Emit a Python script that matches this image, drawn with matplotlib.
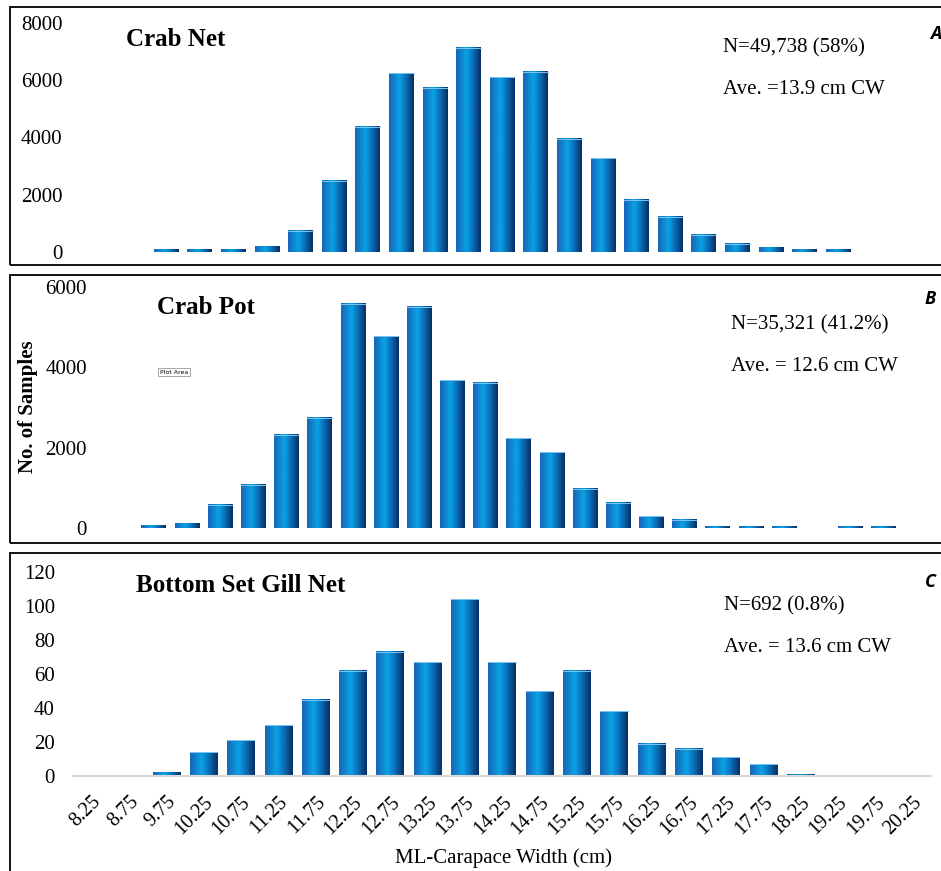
import matplotlib.pyplot as plt
import numpy as np
from matplotlib.colors import LinearSegmentedColormap
from matplotlib.patches import Rectangle

plt.rcParams['font.family'] = ['Liberation Serif', 'DejaVu Serif']

# size classes (cm), as labelled on the bottom panel
size_labels = ["8.25", "8.75", "9.75", "10.25", "10.75", "11.25", "11.75", "12.25",
               "12.75", "13.25", "13.75", "14.25", "14.75", "15.25", "15.75", "16.25",
               "16.75", "17.25", "17.75", "18.25", "19.25", "19.75", "20.25"]

crab_net = [0, 0, 90, 90, 90, 200, 740, 2490, 4380, 6250, 5730, 7140, 6100, 6290,
            3950, 3270, 1830, 1240, 600, 280, 140, 80, 80]
crab_pot = [50, 110, 580, 1080, 2320, 2740, 5580, 4780, 5510, 3680, 3610, 2240, 1880,
            980, 630, 290, 210, 40, 40, 40, 0, 40, 40]
gill_net = [0, 0, 2, 14, 21, 30, 45, 62, 73, 67, 104, 67, 50, 62, 38, 19, 16, 11, 7,
            1, 0, 0, 0]

titles = ["Crab Net", "Crab Pot", "Bottom Set Gill Net"]
stats_n = ["N=49,738 (58%)", "N=35,321 (41.2%)", "N=692 (0.8%)"]
stats_ave = ["Ave. =13.9 cm CW", "Ave. = 12.6 cm CW", "Ave. = 13.6 cm CW"]
letters = ["A", "B", "C"]

W, H = 941, 871
fig = plt.figure(figsize=(W / 100, H / 100), dpi=100)

def fx(px):
    return px / W

def fy(py):
    return 1 - py / H

cmap = LinearSegmentedColormap.from_list(
    "bar", [(0, "#1766b8"), (0.42, "#0aa2e4"), (0.65, "#0a74c0"), (1, "#0a2e60")])
grad = np.linspace(0, 1, 64).reshape(1, -1)

# [left, right, y0 px, ytop px]
boxes = [(82, 855, 252, 23), (137, 900, 528, 287), (73, 931, 776, 572)]
ylims = [8000, 6000, 120]
ytks = [np.arange(0, 8001, 2000), np.arange(0, 6001, 2000), np.arange(0, 121, 20)]
ypads = [14, 36, 13]
series = [crab_net, crab_pot, gill_net]
title_pos = [(126, 39), (157, 307), (136, 585)]
n_pos = [(723, 48), (731, 325), (724, 606)]
ave_pos = [(723, 90), (731, 366), (724, 647)]
let_pos = [(930, 34), (925, 299), (925, 582)]
frames = [(10, 7, 265), (10, 275, 543), (10, 553, 900)]

x = np.arange(len(size_labels))
bw = 0.73
axes = []
for i in range(3):
    l, r, b, t = boxes[i]
    ax = fig.add_axes([fx(l), fy(b), fx(r - l), fy(t) - fy(b)])
    vals = series[i]
    for xi, v in zip(x, vals):
        if v <= 0:
            continue
        ax.imshow(grad, cmap=cmap, aspect="auto", interpolation="bilinear",
                  extent=[xi - bw / 2, xi + bw / 2, 0, v], zorder=2)
        if v > 0.03 * ylims[i]:
            ax.plot([xi - bw / 2, xi + bw / 2], [v, v], color="#7cc6f0", lw=0.7, zorder=3)
    ax.set_xlim(-0.5, len(size_labels) - 0.5)
    ax.set_ylim(0, ylims[i])
    ax.set_yticks(ytks[i])
    ax.tick_params(axis="y", length=0, labelsize=15, pad=ypads[i])
    for s in ax.spines.values():
        s.set_visible(False)
    if i < 2:
        ax.set_xticks([])
    else:
        ax.spines["bottom"].set_visible(True)
        ax.spines["bottom"].set_color("#d9d9d9")
        ax.spines["bottom"].set_linewidth(1.5)
        ax.set_xticks(x)
        ax.set_xticklabels(size_labels, rotation=45, ha="right", rotation_mode="anchor")
        ax.tick_params(axis="x", length=0, labelsize=14.5, pad=12)
    axes.append(ax)

    fig.text(fx(title_pos[i][0]), fy(title_pos[i][1]), titles[i], fontsize=18,
             fontweight="bold", va="center", ha="left")
    fig.text(fx(n_pos[i][0]), fy(n_pos[i][1]), stats_n[i], fontsize=15, va="center")
    fig.text(fx(ave_pos[i][0]), fy(ave_pos[i][1]), stats_ave[i], fontsize=15, va="center")
    fig.text(fx(let_pos[i][0]), fy(let_pos[i][1]), letters[i], fontsize=13,
             fontweight="bold", style="italic", family=["Open Sans", "DejaVu Sans"],
             va="center", ha="left")

    fl, ft, fb = frames[i]
    fig.patches.append(Rectangle((fx(fl), fy(fb)), fx(1000 - fl), fy(ft) - fy(fb),
                                 transform=fig.transFigure, fill=False,
                                 edgecolor="black", lw=1.3, zorder=5))

fig.text(fx(28), fy(407), "No. of Samples", rotation=90, fontsize=15,
         fontweight="bold", va="center", ha="center")
fig.text(fx(504), fy(858), "ML-Carapace Width (cm)", fontsize=15,
         va="center", ha="center")

# leftover Excel "Plot Area" tooltip
fig.text(fx(160), fy(372), "Plot Area", fontsize=4.5, family=["DejaVu Sans"],
         va="center", ha="left",
         bbox=dict(boxstyle="square,pad=0.3", fc="white", ec="#999999", lw=0.6))

fig.savefig("out.png", dpi=100)
